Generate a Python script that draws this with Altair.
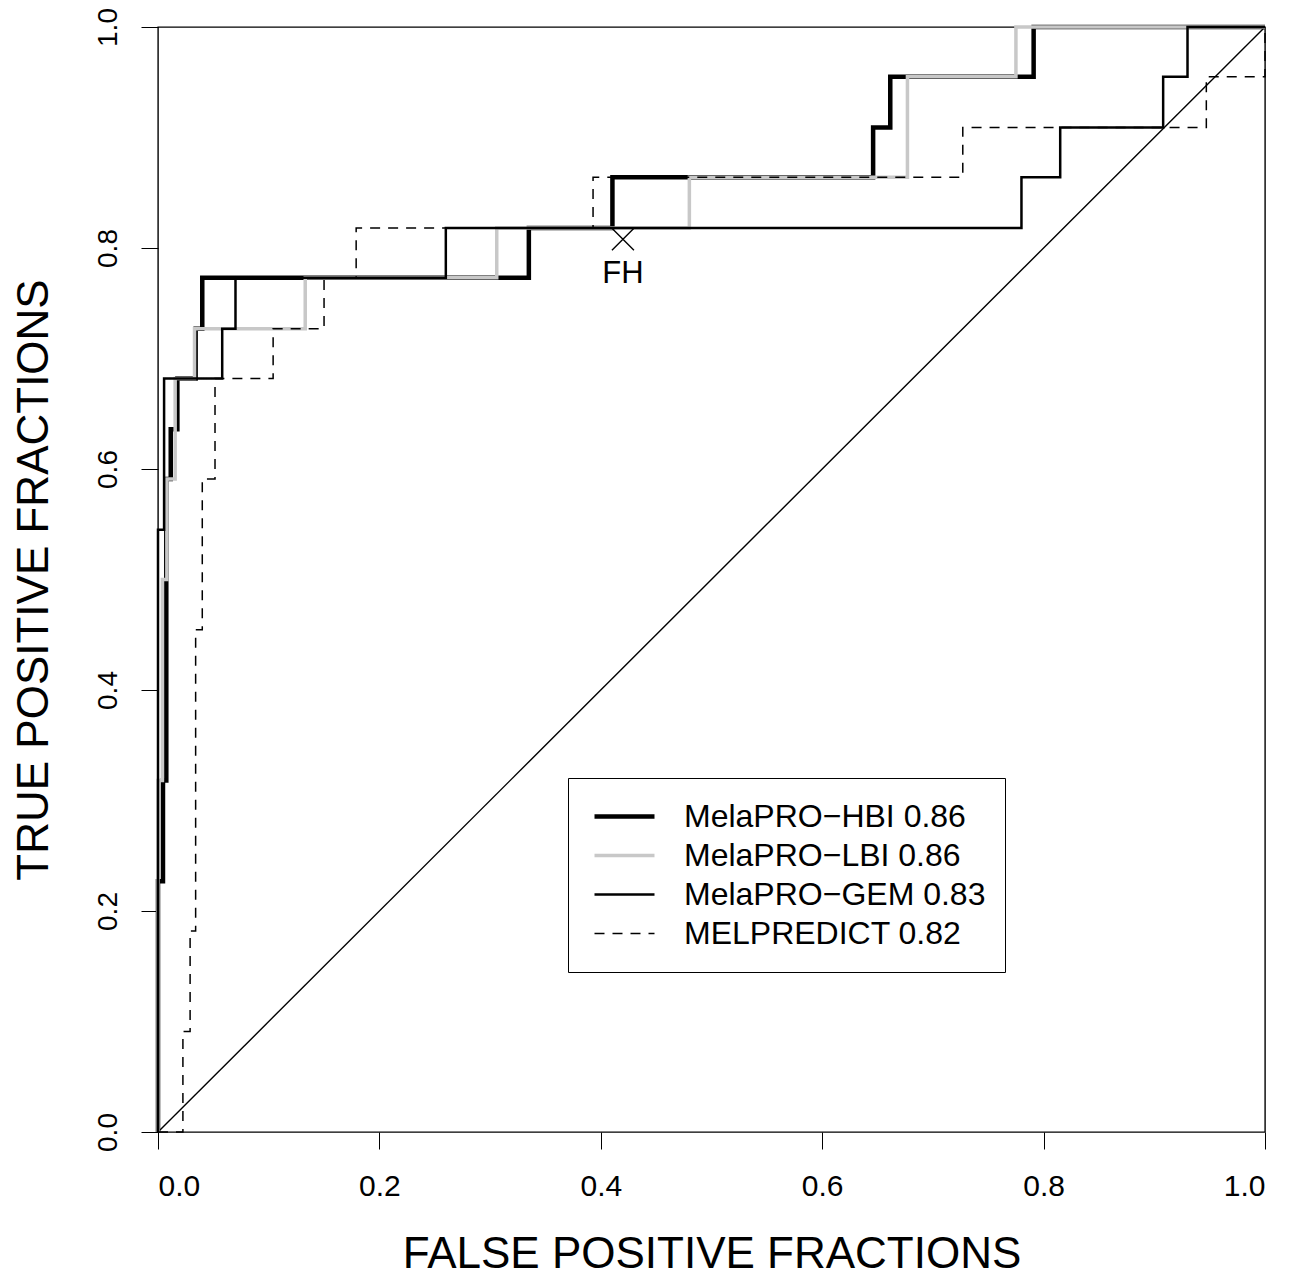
import altair as alt
import pandas as pd

# ---- data (FPR where each rise happens, TPR after the rise) ----
series_names = ["MelaPRO\u2212HBI 0.86", "MelaPRO\u2212LBI 0.86", "MelaPRO\u2212GEM 0.83", "MELPREDICT 0.82"]

hbi_fpr = [0.0, 0.0, 0.0045, 0.0075, 0.0115, 0.0175, 0.034, 0.040, 0.335, 0.4105, 0.646, 0.6615, 0.791, 1.0]
hbi_tpr = [0.0, 0.227, 0.318, 0.591, 0.636, 0.682, 0.727, 0.773, 0.818, 0.864, 0.909, 0.955, 1.0, 1.0]

lbi_fpr = [0.0, 0.0, 0.004, 0.008, 0.0155, 0.033, 0.133, 0.306, 0.480, 0.677, 0.775, 1.0]
lbi_tpr = [0.0, 0.318, 0.5, 0.591, 0.682, 0.727, 0.773, 0.818, 0.864, 0.955, 1.0, 1.0]

gem_fpr = [0.0, 0.0, 0.0055, 0.058, 0.070, 0.260, 0.780, 0.815, 0.908, 0.930, 1.0]
gem_tpr = [0.0, 0.545, 0.682, 0.727, 0.773, 0.818, 0.864, 0.909, 0.955, 1.0, 1.0]

mel_fpr = [0.0, 0.0225, 0.029, 0.034, 0.040, 0.0515, 0.104, 0.150, 0.179, 0.393, 0.727, 0.947, 1.0]
mel_tpr = [0.0, 0.0909, 0.182, 0.4545, 0.591, 0.682, 0.727, 0.773, 0.818, 0.864, 0.909, 0.955, 1.0]

diag_x = [0.0, 1.0]
diag_y = [0.0, 1.0]

fh_x = [0.420]
fh_y = [0.808]
fh_label = ["FH"]

tick_vals = [0.0, 0.2, 0.4, 0.6, 0.8, 1.0]

# ---- build tables ----
rows = []
for name, xs, ys in zip(series_names, [hbi_fpr, lbi_fpr, gem_fpr, mel_fpr],
                        [hbi_tpr, lbi_tpr, gem_tpr, mel_tpr]):
    for i, (a, b) in enumerate(zip(xs, ys)):
        rows.append({"series": name, "ord": i, "fpr": a, "tpr": b})
roc = pd.DataFrame(rows)
diag = pd.DataFrame({"fpr": diag_x, "tpr": diag_y})
fh = pd.DataFrame({"fpr": fh_x, "tpr": fh_y, "label": fh_label})

FONT = "Liberation Sans"

xscale = alt.Scale(domain=[0, 1], nice=False, zero=False)
yscale = alt.Scale(domain=[0, 1], nice=False, zero=False)

xaxis = alt.Axis(values=tick_vals, format=".1f", title="FALSE POSITIVE FRACTIONS",
                 domain=False, grid=False, tickSize=17, tickColor="black", tickWidth=1,
                 labelFontSize=30, labelColor="black", labelPadding=22, labelFont=FONT,
                 titleFontSize=44, titleFont=FONT, titleFontWeight="normal", titleColor="black",
                 titleX=553.5, titleY=135, titleBaseline="alphabetic", titleAlign="center")
yaxis = alt.Axis(values=tick_vals, format=".1f", title="TRUE POSITIVE FRACTIONS",
                 domain=False, grid=False, tickSize=17, tickColor="black", tickWidth=1,
                 labelFontSize=28, labelColor="black", labelPadding=19, labelFont=FONT,
                 labelAngle=270, labelAlign="center", labelBaseline="bottom",
                 titleFontSize=44, titleFont=FONT, titleFontWeight="normal", titleColor="black",
                 titleAngle=270, titleX=-111, titleY=552.5, titleBaseline="alphabetic",
                 titleAlign="center")

legend = alt.Legend(title=None, orient="none", legendX=410, legendY=751,
                    symbolType="stroke", symbolSize=3600, labelFontSize=32, labelFont=FONT,
                    labelColor="black", labelOffset=27, rowPadding=0, clipHeight=39,
                    padding=19, symbolOffset=5, strokeColor="black", fillColor="white",
                    labelLimit=500)

lines = alt.Chart(roc).mark_line(interpolate="step-after", strokeCap="butt",
                                 strokeJoin="miter").encode(
    x=alt.X("fpr:Q", scale=xscale, axis=xaxis),
    y=alt.Y("tpr:Q", scale=yscale, axis=yaxis),
    order="ord:Q",
    color=alt.Color("series:N", sort=series_names,
                    scale=alt.Scale(domain=series_names,
                                    range=["black", "#c8c8c8", "black", "black"]),
                    legend=legend),
    strokeWidth=alt.StrokeWidth("series:N", sort=series_names,
                                scale=alt.Scale(domain=series_names, range=[4.5, 1.5, 1.4, 1.4]),
                                legend=legend),
    strokeDash=alt.StrokeDash("series:N", sort=series_names,
                              scale=alt.Scale(domain=series_names,
                                              range=[[1, 0], [1, 0], [1, 0], [10, 8]]),
                              legend=legend),
)

diag_line = alt.Chart(diag).mark_line(color="black", strokeWidth=1.4).encode(
    x=alt.X("fpr:Q", scale=xscale), y=alt.Y("tpr:Q", scale=yscale))

fh_point = alt.Chart(fh).mark_point(shape="M-1,-1L1,1M-1,1L1,-1", size=484, filled=False,
                                    color="black", strokeWidth=1.4, opacity=1).encode(
    x=alt.X("fpr:Q", scale=xscale), y=alt.Y("tpr:Q", scale=yscale))

fh_text = alt.Chart(fh).mark_text(dy=35, fontSize=31, font=FONT, color="black").encode(
    x=alt.X("fpr:Q", scale=xscale), y=alt.Y("tpr:Q", scale=yscale), text="label:N")

chart = alt.layer(diag_line, lines, fh_point, fh_text).properties(
    width=1107, height=1105,
    autosize=alt.AutoSizeParams(type="none"),
    padding={"left": 150, "top": 19, "right": 30, "bottom": 145},
    background="white",
).configure_view(stroke="black", strokeWidth=1.4)

chart.save("out.html", embed_options={"renderer": "svg", "actions": False})
